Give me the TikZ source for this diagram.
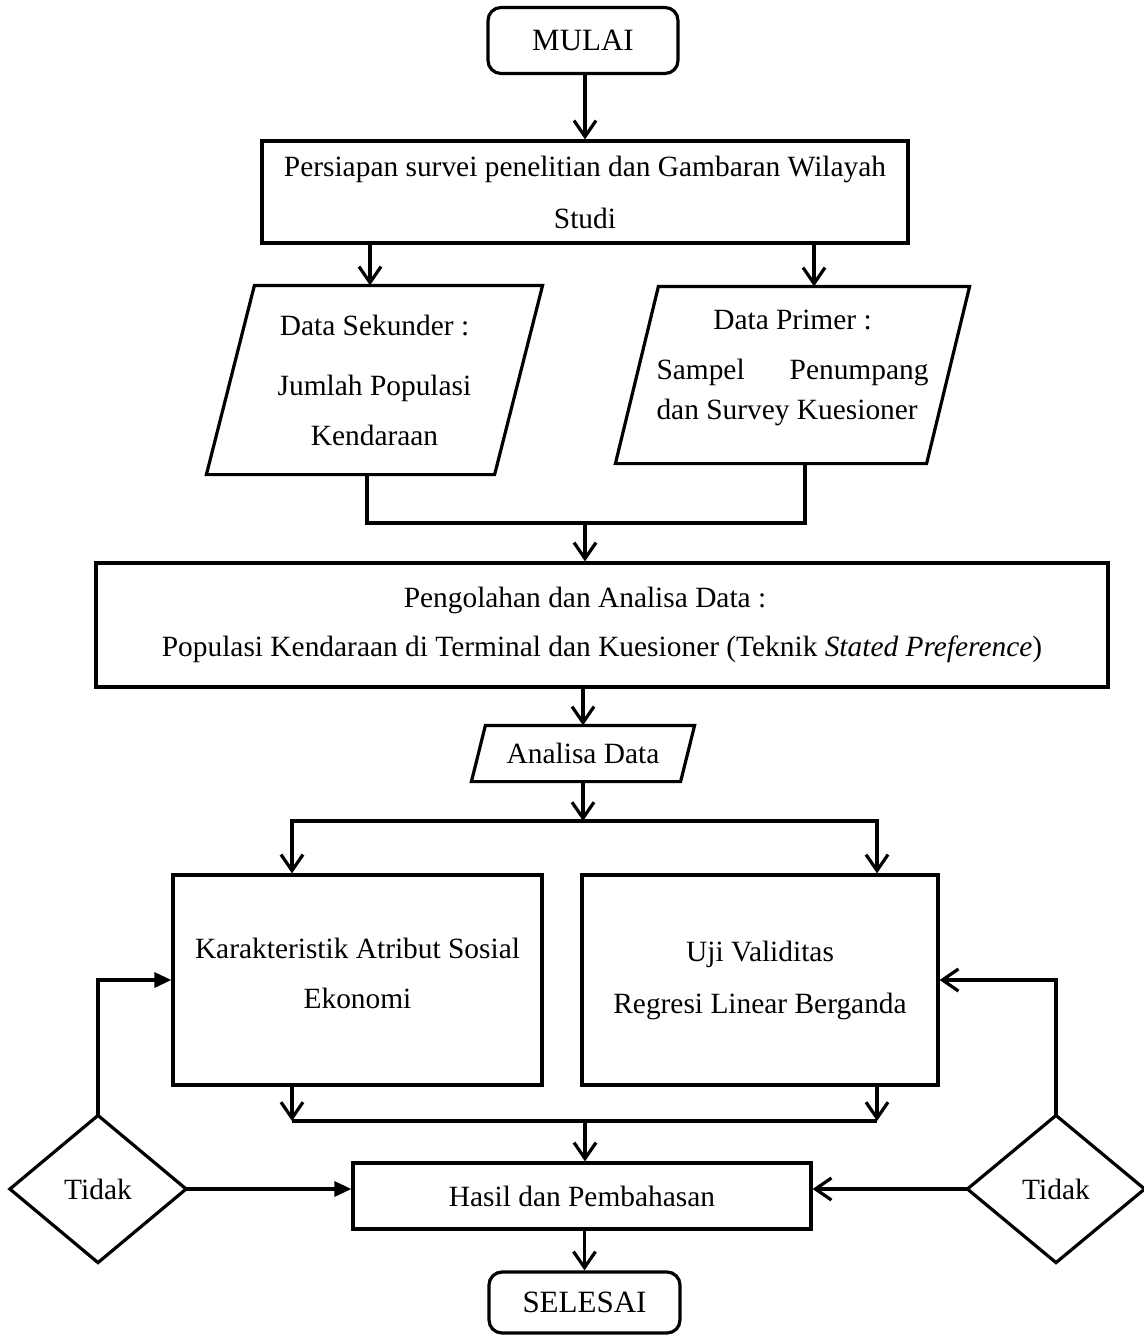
\documentclass[tikz,border=0pt]{standalone}
\usepackage{fontspec}
\setmainfont{Liberation Serif}
\usetikzlibrary{arrows.meta,calc}
\begin{document}
\begin{tikzpicture}[x=0.5pt,y=-0.5pt,
  line width=1.6pt,
  box/.style={draw, rectangle, inner sep=0pt, align=center},
  term/.style={draw, rectangle, rounded corners=6.5pt, inner sep=0pt, align=center, font=\fontsize{15.5}{18}\selectfont},
  frame/.style={rectangle, inner sep=0pt, align=center},
  arr/.style={-{Straight Barb[length=8pt,width=11pt]}},
  tri/.style={-{Triangle[length=8.5pt,width=7.5pt]}}]
\useasboundingbox (0,0) rectangle (1144,1338);

% nodes
\node[term, minimum width=95pt, minimum height=33pt] (mulai) at (583,40.5) {MULAI};
\node[box, minimum width=323pt, minimum height=51pt, font=\fontsize{14.7}{26}\selectfont] (persiapan) at (585,192)
  {Persiapan survei penelitian dan Gambaran Wilayah\\Studi};
\node[frame, minimum width=166.5pt, minimum height=93pt, font=\fontsize{14.7}{25}\selectfont] (sek) at (374.5,380)
  {Data Sekunder :\\[5pt]Jumlah Populasi\\Kendaraan};
\draw ([xshift=24pt]sek.north west) -- (sek.north east) -- ([xshift=-24pt]sek.south east) -- (sek.south west) -- cycle;
\node[frame, minimum width=175.5pt, minimum height=87pt,
  label={[align=center, yshift=3.5pt, font=\fontsize{14.7}{20}\selectfont]center:Data Primer :\\[5pt]\makebox[136pt][s]{Sampel Penumpang}\\\makebox[136pt][l]{dan Survey Kuesioner}}] (primer) at (792.5,375) {};
\draw ([xshift=21.5pt]primer.north west) -- (primer.north east) -- ([xshift=-21.5pt]primer.south east) -- (primer.south west) -- cycle;
\node[box, minimum width=506pt, minimum height=62pt, font=\fontsize{14.7}{24.5}\selectfont] (peng) at (602,625)
  {Pengolahan dan Analisa Data :\rule{17pt}{0pt}\\Populasi Kendaraan di Terminal dan Kuesioner (Teknik \textit{Stated Preference})};
\node[frame, minimum width=110pt, minimum height=26.5pt, font=\fontsize{14.7}{17}\selectfont] (ana) at (583,753.5) {Analisa Data};
\draw ([xshift=7pt]ana.north west) -- (ana.north east) -- ([xshift=-7pt]ana.south east) -- (ana.south west) -- cycle;
\node[box, minimum width=184.5pt, minimum height=105pt,
  label={[align=center, yshift=3.5pt, font=\fontsize{14.7}{25}\selectfont]center:Karakteristik Atribut Sosial\\Ekonomi}] (kar) at (357.5,980) {};
\node[box, minimum width=178pt, minimum height=105pt, font=\fontsize{14.7}{26}\selectfont] (uji) at (760,980)
  {Uji Validitas\\Regresi Linear Berganda};
\node[box, minimum width=229pt, minimum height=33pt, font=\fontsize{14.7}{17}\selectfont] (hasil) at (582,1196) {Hasil dan Pembahasan};
\node[frame, minimum width=86.5pt, minimum height=72pt, font=\fontsize{14.7}{17}\selectfont] (dl) at (98,1189) {Tidak};
\draw (dl.north) -- (dl.east) -- (dl.south) -- (dl.west) -- cycle;
\node[frame, minimum width=87pt, minimum height=72pt, font=\fontsize{14.7}{17}\selectfont] (dr) at (1056,1189) {Tidak};
\draw (dr.north) -- (dr.east) -- (dr.south) -- (dr.west) -- cycle;
\node[term, minimum width=95.5pt, minimum height=30.5pt] (selesai) at (584.5,1302.5) {SELESAI};

% junction coordinates
\coordinate (sekin) at ([xshift=-2.25pt]sek.north);
\coordinate (priin) at ([xshift=10.75pt]primer.north);
\coordinate (sekout) at ([xshift=-3.75pt]sek.south);
\coordinate (priout) at ([xshift=6.25pt]primer.south);
\coordinate (j1) at (585,523);
\coordinate (j2) at (583,821);
\coordinate (kin) at ([xshift=-32.75pt]kar.north);
\coordinate (uin) at ([xshift=58.5pt]uji.north);
\coordinate (kout) at ([xshift=-32.75pt]kar.south);
\coordinate (uout) at ([xshift=58.5pt]uji.south);
\coordinate (j3) at (585,1121);

% connectors
\draw[arr] (mulai.south -| persiapan.north) -- (persiapan.north);
\draw[arr] (persiapan.south -| sekin) -- (sekin);
\draw[arr] (persiapan.south -| priin) -- (priin);
\draw (sekout) |- (priout |- j1) -- (priout);
\draw[arr] (j1) -- (j1 |- peng.north);
\draw[arr] (peng.south -| ana.north) -- (ana.north);
\draw[arr] (ana.south) -- (j2);
\draw[arr] (j2) -| (kin);
\draw[arr] (j2) -| (uin);
\draw[arr] (kout) -- (kout |- j3);
\draw[arr] (uout) -- (uout |- j3);
\draw (kout |- j3) -- (uout |- j3);
\draw[arr] (j3) -- (j3 |- hasil.north);
\draw[arr] (hasil.south -| selesai.north) -- (selesai.north);
\draw[tri] (dl.east) -- (hasil.west |- dl.east);
\draw[tri] (dl.north) |- (kar.west);
\draw[arr] (dr.west) -- (hasil.east |- dr.west);
\draw[arr] (dr.north) |- (uji.east);
\end{tikzpicture}
\end{document}
